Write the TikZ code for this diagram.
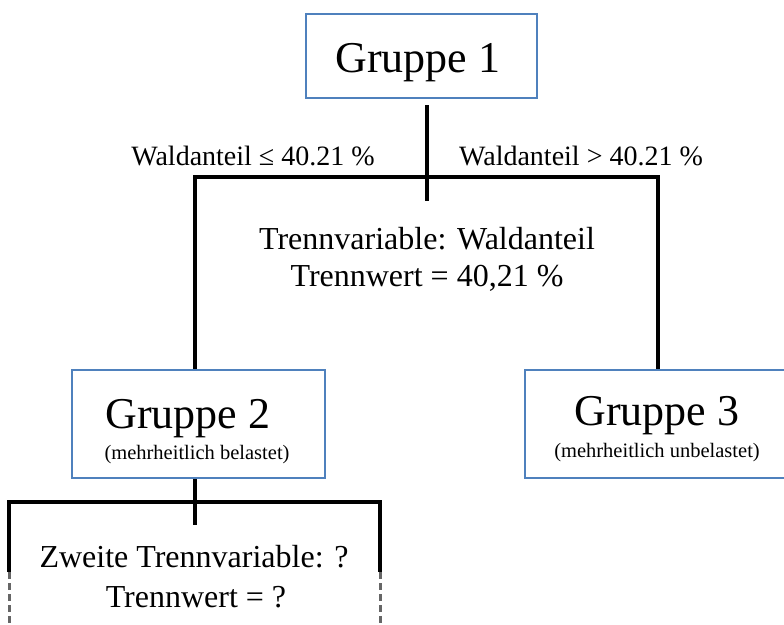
\documentclass[tikz,border=0pt]{standalone}
\usepackage{fontspec}
\setmainfont{Liberation Serif}
\definecolor{boxblue}{RGB}{79,129,189}
\begin{document}
\begin{tikzpicture}[x=1pt,y=-1pt,
  gbox/.style={draw=boxblue,line width=2.8pt,fill=white,inner sep=0pt},
  conn/.style={line width=3.2pt,black},
  dconn/.style={line width=3pt,black!60,dash pattern=on 7pt off 4pt},
  big/.style={font=\fontsize{44}{48}\selectfont,anchor=base,inner sep=0pt},
  small/.style={font=\fontsize{20.5}{24}\selectfont,anchor=base,inner sep=0pt},
  mid/.style={font=\fontsize{32}{36}\selectfont,anchor=base,inner sep=0pt},
  lab/.style={font=\fontsize{28}{30}\selectfont,anchor=base,inner sep=0pt}]
\useasboundingbox (0,0) rectangle (784,624);
\clip (0,0) rectangle (784,624);
% boxes
\node[gbox,minimum width=231pt,minimum height=84pt] (b1) at (421.5,56) {};
\node[gbox,minimum width=253pt,minimum height=108pt] (b2) at (198.5,424) {};
\node[gbox,minimum width=262pt,minimum height=108pt] (b3) at (656,424) {};
\node[big] (t1) at (418,72) {Gruppe 1};
\node[big] (t2) at (188,428) {Gruppe 2};
\node[small] (s2) at (197,459) {(mehrheitlich belastet)};
\node[big] (t3) at (657,425) {Gruppe 3};
\node[small] (s3) at (657,457) {(mehrheitlich unbelastet)};
% first split
\coordinate (c0) at (427,105);
\coordinate (c1) at (427,201);
\coordinate (hl) at (195,177);
\coordinate (hr) at (658,177);
\draw[conn] (c0) -- (c1);
\draw[conn] (b2.north -| hl) |- (hr) -- (b3.north -| hr);
\node[lab] (l1) at (253,165) {Waldanteil ≤ 40.21 \%};
\node[lab] (l2) at (581,165) {Waldanteil > 40.21 \%};
\node[mid] (m1) at (427,249) {Trennvariable: Waldanteil};
\node[mid] (m2) at (427,286) {Trennwert = 40,21 \%};
% second split
\coordinate (d1) at (195,525);
\coordinate (dl) at (9,502);
\coordinate (dr) at (380,502);
\coordinate (el) at (9,572);
\coordinate (er) at (380,572);
\coordinate (fl) at (9,630);
\coordinate (fr) at (380,630);
\draw[conn] (b2.south -| d1) -- (d1);
\draw[conn] (el) -- (dl) -- (dr) -- (er);
\draw[dconn] (el) -- (fl);
\draw[dconn] (er) -- (fr);
\node[mid] (n1) at (194,567) {Zweite Trennvariable: ?};
\node[mid] (n2) at (196,607) {Trennwert = ?};
\end{tikzpicture}
\end{document}
